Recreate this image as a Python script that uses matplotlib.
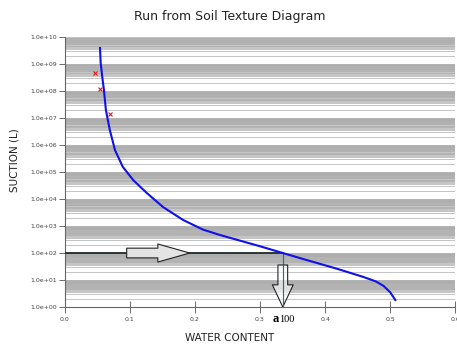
import numpy as np
import matplotlib.pyplot as plt
from matplotlib.patches import FancyArrowPatch, ArrowStyle
from matplotlib.ticker import FixedLocator

# retention curve (water content, log10 suction)
water = [0.054, 0.055, 0.058, 0.060, 0.063, 0.069, 0.077, 0.089, 0.105,
         0.126, 0.151, 0.182, 0.212, 0.238, 0.300, 0.335, 0.366, 0.418,
         0.458, 0.478, 0.490, 0.500, 0.508]
log_suction = [9.59, 9.04, 8.41, 8.04, 7.30, 6.56, 5.81, 5.19, 4.70,
               4.22, 3.70, 3.22, 2.87, 2.67, 2.25, 2.00, 1.78, 1.42,
               1.12, 0.95, 0.78, 0.55, 0.26]

# measured points (red marks)
pt_water = [0.046, 0.054, 0.069]
pt_log_suction = [8.67, 8.07, 7.15]

# a100 point
a_water = 0.335
a_suction = 100

yticks = [10.0 ** k for k in range(0, 11)]
ytick_labels = ['1.0e+%02d' % k for k in range(0, 11)]
xticks = [0.0, 0.1, 0.2, 0.3, 0.4, 0.5, 0.6]
xtick_labels = ['0.0', '0.1', '0.2', '0.3', '0.4', '0.5', '0.6']

suction = [10 ** v for v in log_suction]
pt_suction = [10 ** v for v in pt_log_suction]

fig = plt.figure(figsize=(4.57, 3.45), dpi=100)
ax = fig.add_axes([0.142, 0.110, 0.854, 0.783])
ax.set_yscale('log')
ax.set_xlim(0, 0.6)
ax.set_ylim(1, 1e10)

# horizontal grid lines, denser toward the top of each decade
steps = [1, 2, 3, 3.5] + list(np.arange(4, 10, 0.25))
for d in range(0, 10):
    for k in steps:
        ax.axhline(k * 10 ** d, color='#acacac', lw=0.5, zorder=0)

ax.plot(water, suction, color='#1010e8', lw=1.5, zorder=4, solid_joinstyle='round')
ax.plot(pt_water, pt_suction, 'x', color='#d02020', ms=2.5, mew=0.8, zorder=5)

# guide lines to a100
ax.plot([0, a_water], [a_suction, a_suction], color='#1c2a2a', lw=1.3, zorder=3)
ax.plot([a_water, a_water], [a_suction, 1], color='#2e6c78', lw=0.8, zorder=3)

right = FancyArrowPatch((0.095, a_suction), (0.192, a_suction),
                        arrowstyle=ArrowStyle.Simple(head_length=23, head_width=13, tail_width=7),
                        mutation_scale=1, shrinkA=0, shrinkB=0,
                        facecolor='#e4e4e4', edgecolor='#222222', lw=0.8, zorder=6)
ax.add_patch(right)
down = FancyArrowPatch((a_water, 36), (a_water, 1),
                       arrowstyle=ArrowStyle.Simple(head_length=16, head_width=15, tail_width=7),
                       mutation_scale=1, shrinkA=0, shrinkB=0,
                       facecolor=(1, 1, 1, 0.6), edgecolor='#222222', lw=0.8, zorder=6)
ax.add_patch(down)
ax.plot([a_water, a_water], [36, 1], color='#2e6c78', lw=0.8, zorder=7)

ax.yaxis.set_major_locator(FixedLocator(yticks))
ax.yaxis.set_minor_locator(FixedLocator([]))
ax.set_yticks(yticks)
ax.set_yticklabels(ytick_labels)
ax.set_xticks(xticks)
ax.set_xticklabels(xtick_labels)
ax.tick_params(axis='y', labelsize=4.5, length=4, width=0.6, color='#555555',
               labelcolor='#444444', pad=1.5)
ax.tick_params(axis='x', labelsize=4.5, length=8, width=0.6, direction='inout',
               color='#555555', labelcolor='#444444', pad=3)

for s in ['top', 'right']:
    ax.spines[s].set_visible(False)
for s in ['left', 'bottom']:
    ax.spines[s].set_color('#666666')
    ax.spines[s].set_linewidth(0.8)

ax.text(0.329, -0.055, 'a', transform=ax.get_xaxis_transform(),
        ha='right', va='baseline', family='Liberation Serif', weight='bold', fontsize=9)
ax.text(0.329, -0.055, '100', transform=ax.get_xaxis_transform(),
        ha='left', va='baseline', family='Liberation Serif', fontsize=7.5)

fig.text(0.503, 0.953, 'Run from Soil Texture Diagram', ha='center', va='center',
         fontsize=9, color='#222222')
fig.text(0.503, 0.020, 'WATER CONTENT', ha='center', va='center',
         fontsize=7.5, color='#222222')
fig.text(0.031, 0.535, 'SUCTION (L)', ha='center', va='center', rotation=90,
         fontsize=7.5, color='#222222')

fig.savefig('out.png', dpi=100)
